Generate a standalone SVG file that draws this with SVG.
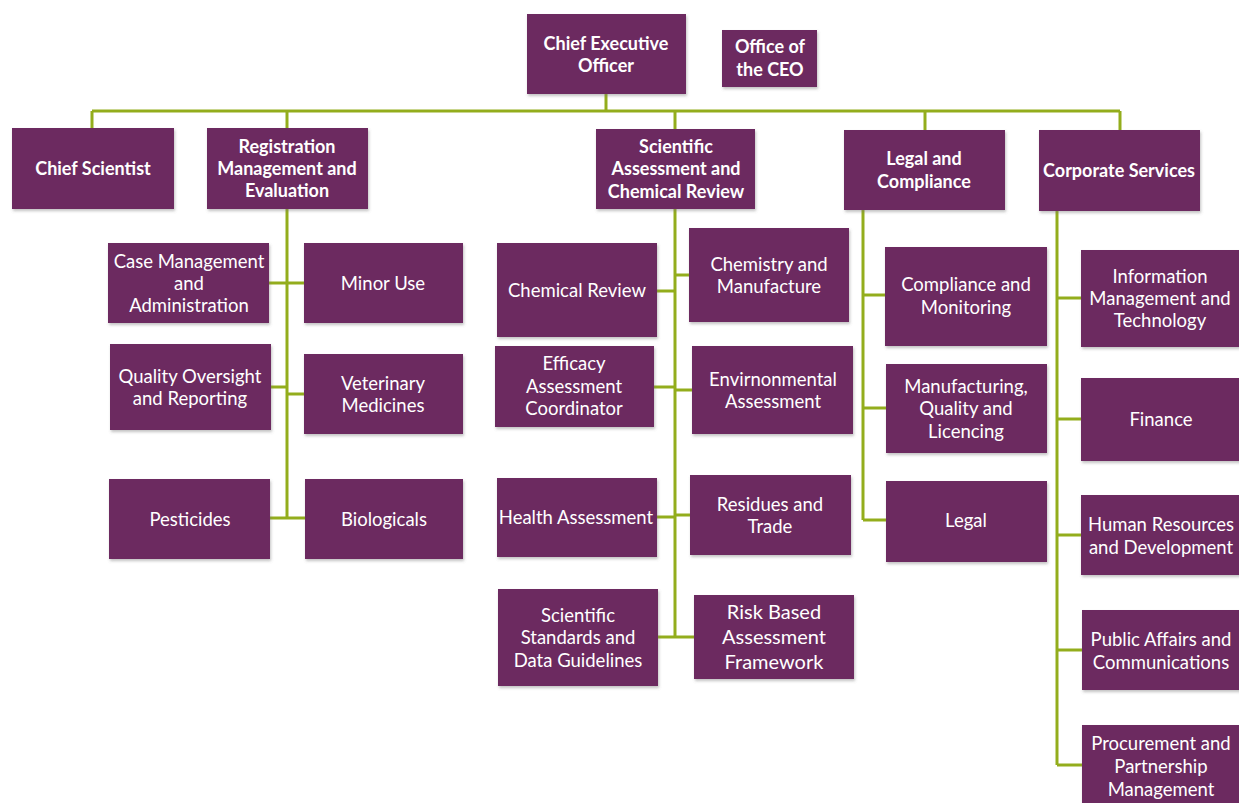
<svg xmlns="http://www.w3.org/2000/svg" width="1239" height="803" viewBox="0 0 1239 803">
<defs>
<filter id="sh" x="-5%" y="-5%" width="115%" height="120%">
<feDropShadow dx="1" dy="2" stdDeviation="1.5" flood-color="#777" flood-opacity="0.45"/>
</filter>
<style>
.b{fill:#6c2a61;filter:url(#sh)}
.t{font-family:Lato,"Liberation Sans",sans-serif;font-size:18.5px;fill:#fff;text-anchor:middle;dominant-baseline:central}
.h{font-weight:bold;font-size:18px}
.r{font-size:20px}
.c{stroke:#93ad1c;stroke-width:3;fill:none}
</style>
</defs>
<rect width="1239" height="803" fill="#fff"/>
<g id="connectors" class="c">
<path d="M606 94V111M92 111H1120M92 111V128M287 111V128M675 111V129M925 111V130M1120 111V130"/>
<path d="M287 209V518M269 283H304M271 387H287M287 394H304M270 518H305"/>
<path d="M675 209V637M657 291H675M675 275H689M654 387H675M675 390H692M657 517H675M675 515H690M658 637H694"/>
<path d="M863 210V520M863 295H885M863 408H886M863 520H886"/>
<path d="M1057 211V765M1057 298H1081M1057 419H1081M1057 535H1081M1057 650H1082M1057 765H1082"/>
</g>
<g id="ceo"><rect class="b" x="527" y="14" width="159" height="80"/><text class="t h" x="606" y="43">Chief Executive</text><text class="t h" x="606" y="65">Officer</text></g>
<g id="office"><rect class="b" x="722" y="30" width="95" height="57"/><text class="t h" x="770" y="46">Office of</text><text class="t h" x="770" y="69">the CEO</text></g>
<g id="chief-scientist"><rect class="b" x="12" y="128" width="162" height="81"/><text class="t h" x="93" y="168">Chief Scientist</text></g>
<g id="registration"><rect class="b" x="207" y="128" width="161" height="81"/><text class="t h" x="287" y="146">Registration</text><text class="t h" x="287" y="168">Management and</text><text class="t h" x="287" y="190">Evaluation</text></g>
<g id="scientific"><rect class="b" x="596" y="129" width="159" height="80"/><text class="t h" x="676" y="146">Scientific</text><text class="t h" x="676" y="168">Assessment and</text><text class="t h" x="676" y="191">Chemical Review</text></g>
<g id="legal-compliance"><rect class="b" x="844" y="130" width="161" height="80"/><text class="t h" x="924" y="158">Legal and</text><text class="t h" x="924" y="181">Compliance</text></g>
<g id="corporate"><rect class="b" x="1039" y="130" width="161" height="81"/><text class="t h" x="1119" y="170">Corporate Services</text></g>

<g id="case"><rect class="b" x="108" y="243" width="161" height="80"/><text class="t" x="189" y="261">Case Management</text><text class="t" x="189" y="283">and</text><text class="t" x="189" y="305">Administration</text></g>
<g id="minor"><rect class="b" x="304" y="243" width="159" height="80"/><text class="t" x="383" y="283">Minor Use</text></g>
<g id="quality"><rect class="b" x="110" y="344" width="161" height="86"/><text class="t" x="190" y="376">Quality Oversight</text><text class="t" x="190" y="398">and Reporting</text></g>
<g id="veterinary"><rect class="b" x="304" y="354" width="159" height="80"/><text class="t" x="383" y="383">Veterinary</text><text class="t" x="383" y="405">Medicines</text></g>
<g id="pesticides"><rect class="b" x="109" y="479" width="161" height="80"/><text class="t" x="190" y="519">Pesticides</text></g>
<g id="biologicals"><rect class="b" x="305" y="479" width="158" height="80"/><text class="t" x="384" y="519">Biologicals</text></g>

<g id="chemical-review"><rect class="b" x="497" y="243" width="160" height="94"/><text class="t" x="577" y="290">Chemical Review</text></g>
<g id="chemistry"><rect class="b" x="689" y="228" width="160" height="94"/><text class="t" x="769" y="264">Chemistry and</text><text class="t" x="769" y="286">Manufacture</text></g>
<g id="efficacy"><rect class="b" x="495" y="346" width="159" height="81"/><text class="t" x="574" y="363">Efficacy</text><text class="t" x="574" y="386">Assessment</text><text class="t" x="574" y="408">Coordinator</text></g>
<g id="environmental"><rect class="b" x="692" y="346" width="161" height="88"/><text class="t" x="773" y="379">Envirnonmental</text><text class="t" x="773" y="401">Assessment</text></g>
<g id="health"><rect class="b" x="497" y="478" width="160" height="79"/><text class="t" x="576" y="517">Health Assessment</text></g>
<g id="residues"><rect class="b" x="690" y="475" width="161" height="80"/><text class="t" x="770" y="504">Residues and</text><text class="t" x="770" y="526">Trade</text></g>
<g id="standards"><rect class="b" x="498" y="589" width="160" height="97"/><text class="t" x="578" y="615">Scientific</text><text class="t" x="578" y="637">Standards and</text><text class="t" x="578" y="660">Data Guidelines</text></g>
<g id="risk"><rect class="b" x="694" y="595" width="160" height="84"/><text class="t r" x="774" y="611">Risk Based</text><text class="t r" x="774" y="636">Assessment</text><text class="t r" x="774" y="661">Framework</text></g>

<g id="compliance"><rect class="b" x="885" y="247" width="162" height="99"/><text class="t" x="966" y="284">Compliance and</text><text class="t" x="966" y="307">Monitoring</text></g>
<g id="manufacturing"><rect class="b" x="886" y="364" width="161" height="89"/><text class="t" x="966" y="386">Manufacturing,</text><text class="t" x="966" y="408">Quality and</text><text class="t" x="966" y="431">Licencing</text></g>
<g id="legal"><rect class="b" x="886" y="481" width="161" height="81"/><text class="t" x="966" y="520">Legal</text></g>

<g id="information"><rect class="b" x="1081" y="250" width="162" height="97"/><text class="t" x="1160" y="276">Information</text><text class="t" x="1160" y="298">Management and</text><text class="t" x="1160" y="320">Technology</text></g>
<g id="finance"><rect class="b" x="1081" y="378" width="162" height="83"/><text class="t" x="1161" y="419">Finance</text></g>
<g id="hr"><rect class="b" x="1081" y="495" width="162" height="80"/><text class="t" x="1161" y="524">Human Resources</text><text class="t" x="1161" y="547">and Development</text></g>
<g id="public"><rect class="b" x="1082" y="610" width="162" height="80"/><text class="t" x="1161" y="639">Public Affairs and</text><text class="t" x="1161" y="662">Communications</text></g>
<g id="procurement"><rect class="b" x="1082" y="725" width="162" height="80"/><text class="t" x="1161" y="743">Procurement and</text><text class="t" x="1161" y="766">Partnership</text><text class="t" x="1161" y="789">Management</text></g>
</svg>
